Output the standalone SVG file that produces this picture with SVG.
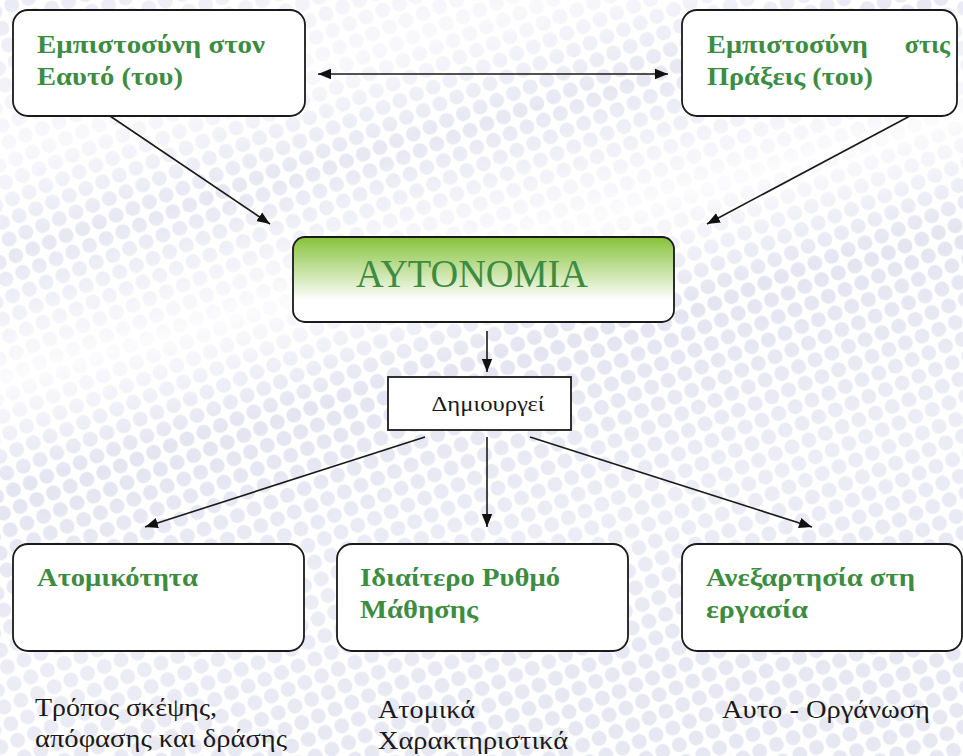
<svg xmlns="http://www.w3.org/2000/svg" width="963" height="756" viewBox="0 0 963 756">
<defs>
<style>
.box{fill:#fff;stroke:#1a1a1a;stroke-width:1.8}
.g{font-family:'Liberation Serif','Times New Roman',Times,'DejaVu Serif',serif;font-weight:bold;font-size:26px;fill:#3e8c42}
.n{font-family:'Liberation Serif','Times New Roman',Times,'DejaVu Serif',serif;font-size:25px;fill:#1a1a1a}
.t{font-family:'Liberation Serif','Times New Roman',Times,'DejaVu Serif',serif}
.c{stroke:#1a1a1a;stroke-width:1.6;fill:none}
</style>
<pattern id="dots" width="18" height="18" patternUnits="userSpaceOnUse" patternTransform="rotate(-22)">
<circle cx="9" cy="9" r="7.5" fill="#e5e5f2"/>
</pattern>
<linearGradient id="band" x1="0" y1="0" x2="0.35" y2="1">
<stop offset="0" stop-color="#fff" stop-opacity="0.2"/>
<stop offset="0.18" stop-color="#fff" stop-opacity="0.75"/>
<stop offset="0.3" stop-color="#fff" stop-opacity="0.1"/>
<stop offset="0.45" stop-color="#fff" stop-opacity="0.85"/>
<stop offset="0.58" stop-color="#fff" stop-opacity="0"/>
<stop offset="0.8" stop-color="#fff" stop-opacity="0.3"/>
<stop offset="1" stop-color="#fff" stop-opacity="0.1"/>
</linearGradient>
<linearGradient id="green" x1="0" y1="0" x2="0" y2="1">
<stop offset="0" stop-color="#86c23a"/>
<stop offset="0.75" stop-color="#ffffff"/>
<stop offset="1" stop-color="#ffffff"/>
</linearGradient>
<marker id="ahb" viewBox="0 0 10 10" refX="10" refY="5" markerWidth="13" markerHeight="13" markerUnits="userSpaceOnUse" orient="auto-start-reverse">
<path d="M0,1 L10,5 L0,9 z" fill="#111"/>
</marker>
</defs>
<rect width="963" height="756" fill="#fff"/>
<rect width="963" height="756" fill="url(#dots)"/>
<rect width="963" height="756" fill="url(#band)"/>

<g id="connectors">
<line class="c" x1="318" y1="74" x2="668" y2="74" marker-start="url(#ahb)" marker-end="url(#ahb)"/>
<line class="c" x1="110" y1="116" x2="270" y2="224" marker-end="url(#ahb)"/>
<line class="c" x1="910" y1="116" x2="707" y2="224" marker-end="url(#ahb)"/>
<line class="c" x1="487" y1="331" x2="487" y2="372" marker-end="url(#ahb)"/>
<line class="c" x1="425" y1="437" x2="145" y2="527" marker-end="url(#ahb)"/>
<line class="c" x1="487" y1="437" x2="487" y2="527" marker-end="url(#ahb)"/>
<line class="c" x1="530" y1="437" x2="812" y2="527" marker-end="url(#ahb)"/>
</g>

<g id="trust-self">
<rect class="box" x="13" y="10" width="292" height="106" rx="15"/>
<text class="g" x="37" y="53" textLength="228" lengthAdjust="spacingAndGlyphs">Εμπιστοσύνη στον</text>
<text class="g" x="37" y="85" textLength="146" lengthAdjust="spacingAndGlyphs">Εαυτό (του)</text>
</g>

<g id="trust-actions">
<rect class="box" x="682" y="10" width="275" height="106" rx="15"/>
<text class="g" x="707" y="53" textLength="161" lengthAdjust="spacingAndGlyphs">Εμπιστοσύνη</text>
<text class="g" x="950" y="53" text-anchor="end">στις</text>
<text class="g" x="707" y="85" textLength="166" lengthAdjust="spacingAndGlyphs">Πράξεις (του)</text>
</g>

<g id="autonomy">
<rect x="293" y="237" width="381" height="85" rx="12" fill="url(#green)" stroke="#1a1a1a" stroke-width="1.8"/>
<text class="t" x="472" y="287" text-anchor="middle" font-size="40" fill="#3e8c42" textLength="232" lengthAdjust="spacingAndGlyphs">AYTONOMIA</text>
</g>

<g id="creates">
<rect x="388" y="377" width="183" height="53" fill="#fff" stroke="#1a1a1a" stroke-width="1.8"/>
<text class="t" x="488" y="411" text-anchor="middle" font-size="21" fill="#1a1a1a" textLength="113" lengthAdjust="spacingAndGlyphs">Δημιουργεί</text>
</g>

<g id="individuality">
<rect class="box" x="13" y="544" width="291" height="107" rx="15"/>
<text class="g" x="37" y="586" textLength="161" lengthAdjust="spacingAndGlyphs">Ατομικότητα</text>
</g>

<g id="learning-pace">
<rect class="box" x="337" y="544" width="291" height="107" rx="15"/>
<text class="g" x="360" y="586" textLength="200" lengthAdjust="spacingAndGlyphs">Ιδιαίτερο Ρυθμό</text>
<text class="g" x="360" y="618" textLength="118" lengthAdjust="spacingAndGlyphs">Μάθησης</text>
</g>

<g id="work-independence">
<rect class="box" x="682" y="544" width="280" height="107" rx="15"/>
<text class="g" x="706" y="586" textLength="209" lengthAdjust="spacingAndGlyphs">Ανεξαρτησία στη</text>
<text class="g" x="706" y="618" textLength="102" lengthAdjust="spacingAndGlyphs">εργασία</text>
</g>

<g id="notes">
<text class="n" x="35" y="716" textLength="182" lengthAdjust="spacingAndGlyphs">Τρόπος σκέψης,</text>
<text class="n" x="35" y="747" textLength="252" lengthAdjust="spacingAndGlyphs">απόφασης και δράσης</text>
<text class="n" x="378" y="718" textLength="97" lengthAdjust="spacingAndGlyphs">Ατομικά</text>
<text class="n" x="378" y="749" textLength="190" lengthAdjust="spacingAndGlyphs">Χαρακτηριστικά</text>
<text class="n" x="722" y="718" textLength="208" lengthAdjust="spacingAndGlyphs">Αυτο - Οργάνωση</text>
</g>
</svg>
